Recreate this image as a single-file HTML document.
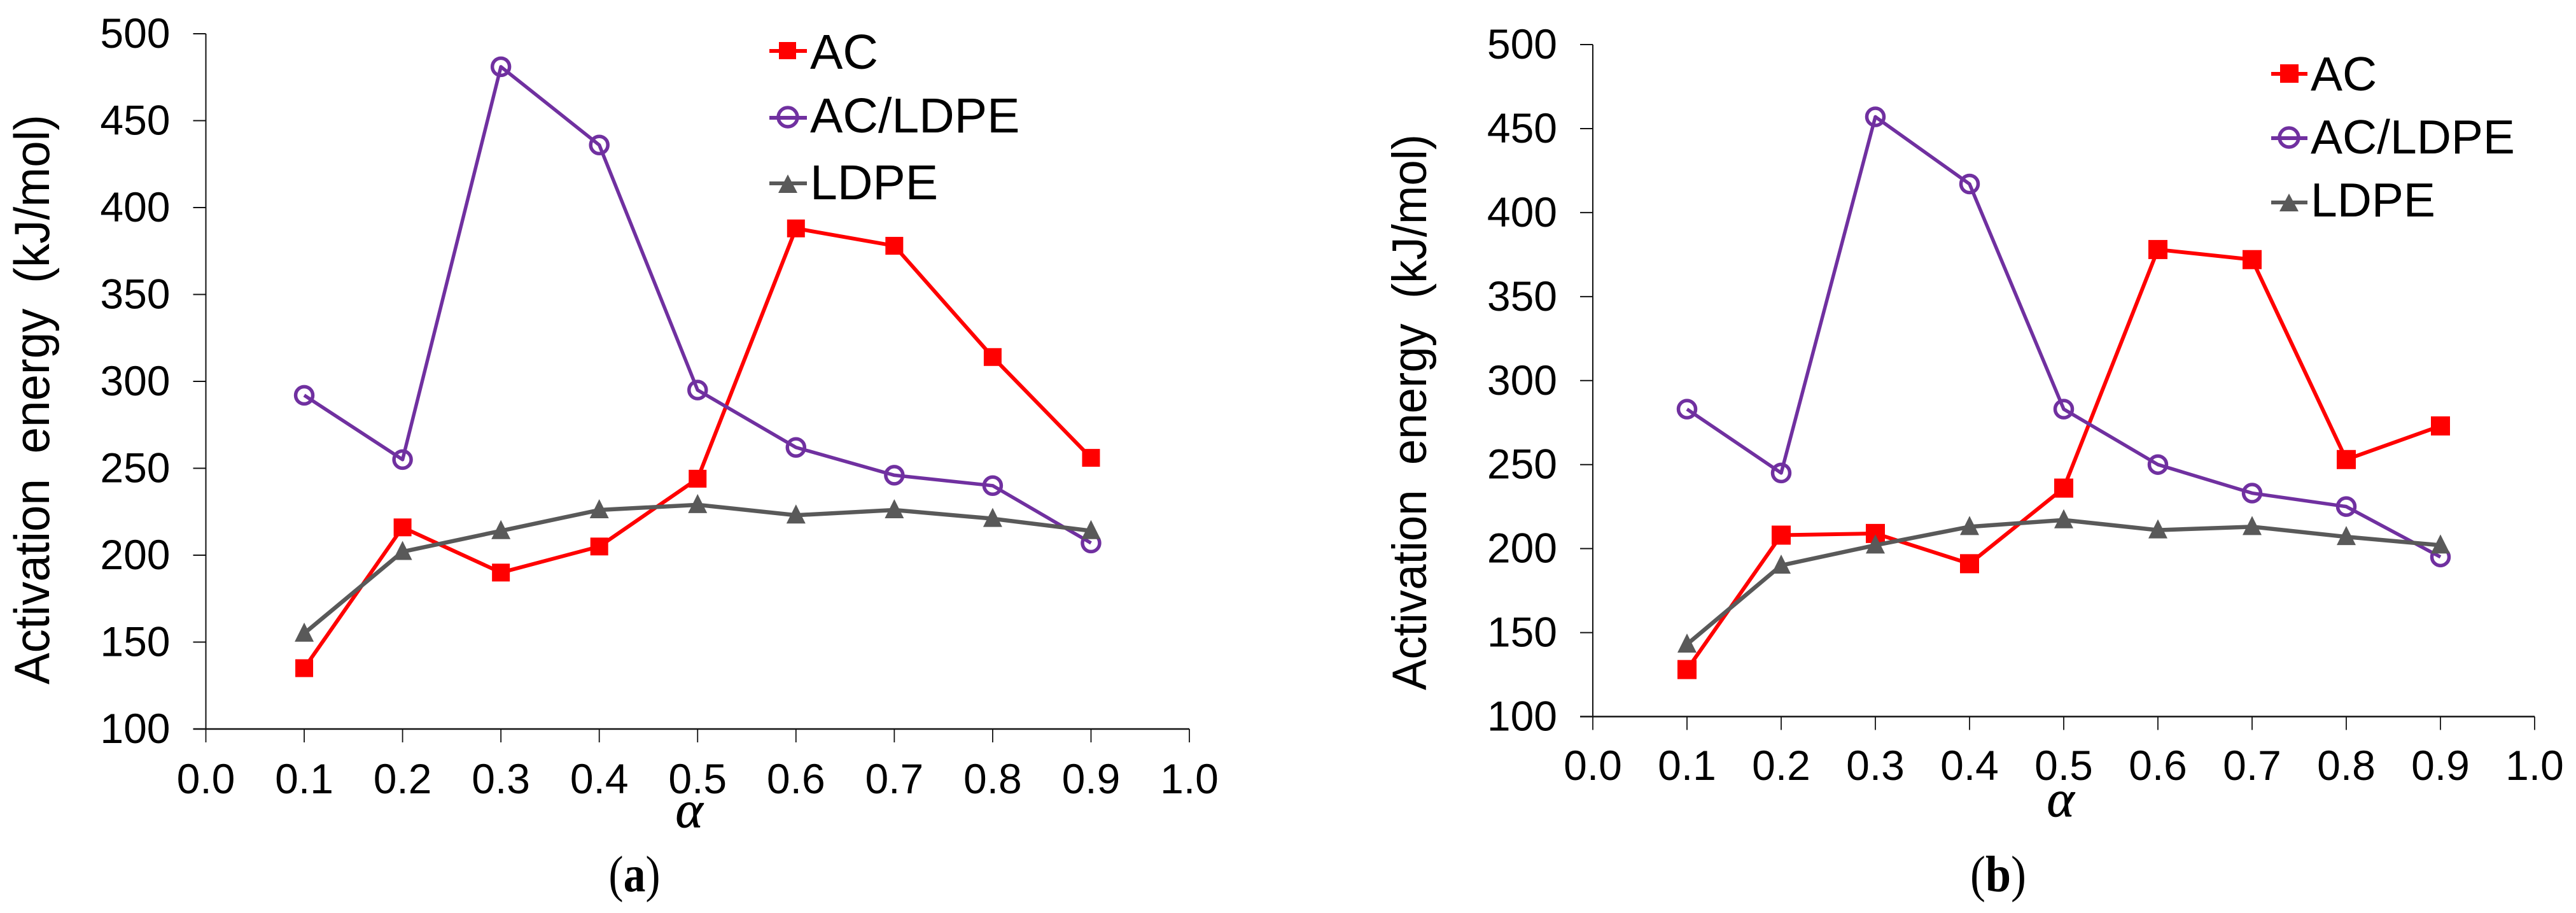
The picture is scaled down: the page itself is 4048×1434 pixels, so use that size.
<!DOCTYPE html>
<html>
<head>
<meta charset="utf-8">
<title>Activation energy vs conversion</title>
<style>
html,body{margin:0;padding:0;background:#fff;}
svg{display:block;}
text{font-family:"Liberation Sans",sans-serif;fill:#000;}
.serif{font-family:"Liberation Serif",serif;}
</style>
</head>
<body>
<svg id="figure" xmlns="http://www.w3.org/2000/svg" width="4048" height="1434" viewBox="0 0 4048 1434">
  <rect x="0" y="0" width="4048" height="1434" fill="#ffffff"/>
  <g id="panel-a">
    <text transform="translate(77,1075) rotate(-90) scale(0.955,1)" font-size="78" word-spacing="20">Activation energy (kJ/mol)</text>
    <text class="serif" x="1083" y="1299" font-size="82" font-style="italic" text-anchor="middle" stroke="#000" stroke-width="0.8">α</text>
    <text class="serif" transform="translate(997,1400) scale(0.87,1)" font-size="80" text-anchor="middle">(<tspan font-weight="bold">a</tspan>)</text>
    <g>
      <g>
        <line x1="1209" y1="80" x2="1268" y2="80" stroke="#ff0000" stroke-width="6"/>
        <rect x="1224" y="66" width="27" height="27" fill="#ff0000"/>
        <text x="1273" y="108" font-size="77">AC</text>
      </g>
      <g>
        <line x1="1209" y1="185" x2="1268" y2="185" stroke="#7030a0" stroke-width="6"/>
        <circle cx="1238" cy="184" r="15" fill="none" stroke="#7030a0" stroke-width="5.5"/>
        <text x="1273" y="208" font-size="77">AC/LDPE</text>
      </g>
      <g>
        <line x1="1209" y1="288" x2="1268" y2="288" stroke="#595959" stroke-width="6"/>
        <polygon points="1238,274 1253,303 1223,303" fill="#595959"/>
        <text x="1273" y="313" font-size="77">LDPE</text>
      </g>
    </g>
  </g>
  <g id="panel-b">
    <text transform="translate(2241,1084) rotate(-90) scale(0.955,1)" font-size="76" word-spacing="20">Activation energy (kJ/mol)</text>
    <text class="serif" x="3238" y="1282" font-size="82" font-style="italic" text-anchor="middle" stroke="#000" stroke-width="0.8">α</text>
    <text class="serif" transform="translate(3140,1400) scale(0.9,1)" font-size="80" text-anchor="middle">(<tspan font-weight="bold">b</tspan>)</text>
    <g>
      <g>
        <line x1="3569" y1="116" x2="3626" y2="116" stroke="#ff0000" stroke-width="6"/>
        <rect x="3583" y="101" width="29" height="29" fill="#ff0000"/>
        <text x="3631" y="142" font-size="75">AC</text>
      </g>
      <g>
        <line x1="3569" y1="217" x2="3626" y2="217" stroke="#7030a0" stroke-width="6"/>
        <circle cx="3597" cy="216" r="15" fill="none" stroke="#7030a0" stroke-width="5.5"/>
        <text x="3631" y="241" font-size="75">AC/LDPE</text>
      </g>
      <g>
        <line x1="3569" y1="318" x2="3626" y2="318" stroke="#595959" stroke-width="6"/>
        <polygon points="3597,304 3612,332 3582,332" fill="#595959"/>
        <text x="3631" y="340" font-size="75">LDPE</text>
      </g>
    </g>
  </g>
</svg>
<script>
var xCategories = [0.1, 0.2, 0.3, 0.4, 0.5, 0.6, 0.7, 0.8, 0.9];
var xTickValues = [0.0, 0.1, 0.2, 0.3, 0.4, 0.5, 0.6, 0.7, 0.8, 0.9, 1.0];
var xTickLabels = ["0.0", "0.1", "0.2", "0.3", "0.4", "0.5", "0.6", "0.7", "0.8", "0.9", "1.0"];
var yTickValues = [100, 150, 200, 250, 300, 350, 400, 450, 500];
var yTickLabels = ["100", "150", "200", "250", "300", "350", "400", "450", "500"];

var acValuesA = [135, 216, 190, 205, 244, 388, 378, 314, 256];
var acLdpeValuesA = [292, 255, 481, 436, 295, 262, 246, 240, 207];
var ldpeValuesA = [155, 202, 214, 226, 229, 223, 226, 221, 214];

var acValuesB = [128, 208, 209, 191, 236, 378, 372, 253, 273];
var acLdpeValuesB = [283, 245, 457, 417, 283, 250, 233, 225, 195];
var ldpeValuesB = [143, 190, 202, 213, 217, 211, 213, 207, 202];

var NS = 'http://www.w3.org/2000/svg';

function make(tag, attrs, parent) {
  var el = document.createElementNS(NS, tag);
  for (var k in attrs) { el.setAttribute(k, attrs[k]); }
  parent.appendChild(el);
  return el;
}

function drawPanel(parent, g, acValues, acLdpeValues, ldpeValues) {
  function xScale(v) { return g.left + (v - 0) / (1 - 0) * (g.right - g.left); }
  function yScale(v) { return g.bottom - (v - 100) / (500 - 100) * (g.bottom - g.top); }

  var axes = make('g', {}, parent);
  
  

  var yAxis = make('line', {x1: g.left, y1: g.top, x2: g.left, y2: g.bottom, stroke: '#111', 'stroke-width': 2}, axes);
  
  

  var xAxis = make('line', {x1: g.left - 20, y1: g.bottom, x2: g.right, y2: g.bottom, stroke: '#111', 'stroke-width': 2.5}, axes);
  
  

  yTickValues.forEach(function (v, i) {
    var y = yScale(v);
    var tick = make('line', {x1: g.left - 20, y1: y, x2: g.left, y2: y, stroke: '#111', 'stroke-width': 2}, axes);
    
    
    var label = make('text', {x: g.left - 56, y: y + 22, 'font-size': 66, 'text-anchor': 'end'}, axes);
    
    
    label.textContent = yTickLabels[i];
  });

  xTickValues.forEach(function (v, i) {
    var x = xScale(v);
    var tick = make('line', {x1: x, y1: g.bottom, x2: x, y2: g.bottom + 21, stroke: '#111', 'stroke-width': 1.8}, axes);
    
    
    var label = make('text', {x: x, y: g.labelBaseline, 'font-size': 66, 'text-anchor': 'middle'}, axes);
    
    
    label.textContent = xTickLabels[i];
  });

  function points(values) {
    return values.map(function (v, i) { return xScale(xCategories[i]) + ',' + yScale(v); }).join(' ');
  }

  var m = g.marker;

  var lineAc = make('polyline', {points: points(acValues), fill: 'none', stroke: '#ff0000', 'stroke-width': 6, 'stroke-linejoin': 'round'}, parent);
  
  
  acValues.forEach(function (v, i) {
    var p = make('rect', {x: xScale(xCategories[i]) - m / 2, y: yScale(v) - m / 2, width: m, height: m, fill: '#ff0000'}, parent);
    
    
  });

  var lineMix = make('polyline', {points: points(acLdpeValues), fill: 'none', stroke: '#7030a0', 'stroke-width': 5.5, 'stroke-linejoin': 'round'}, parent);
  
  
  acLdpeValues.forEach(function (v, i) {
    var p = make('circle', {cx: xScale(xCategories[i]), cy: yScale(v), r: 13.5, fill: 'none', stroke: '#7030a0', 'stroke-width': 5.5}, parent);
    
    
  });

  var lineLdpe = make('polyline', {points: points(ldpeValues), fill: 'none', stroke: '#595959', 'stroke-width': 6.5, 'stroke-linejoin': 'round'}, parent);
  
  
  ldpeValues.forEach(function (v, i) {
    var cx = xScale(xCategories[i]);
    var cy = yScale(v);
    var pts = cx + ',' + (cy - 17) + ' ' + (cx + 15) + ',' + (cy + 13) + ' ' + (cx - 15) + ',' + (cy + 13);
    var p = make('polygon', {points: pts, fill: '#595959'}, parent);
    
    
  });
}

var panelAGeometry = {left: 323.5, right: 1869, top: 53, bottom: 1145, labelBaseline: 1246, marker: 28};
var panelBGeometry = {left: 2503, right: 3983, top: 70, bottom: 1125.5, labelBaseline: 1225, marker: 30};

drawPanel(document.getElementById('panel-a'), panelAGeometry, acValuesA, acLdpeValuesA, ldpeValuesA);
drawPanel(document.getElementById('panel-b'), panelBGeometry, acValuesB, acLdpeValuesB, ldpeValuesB);
</script>
</body>
</html>
